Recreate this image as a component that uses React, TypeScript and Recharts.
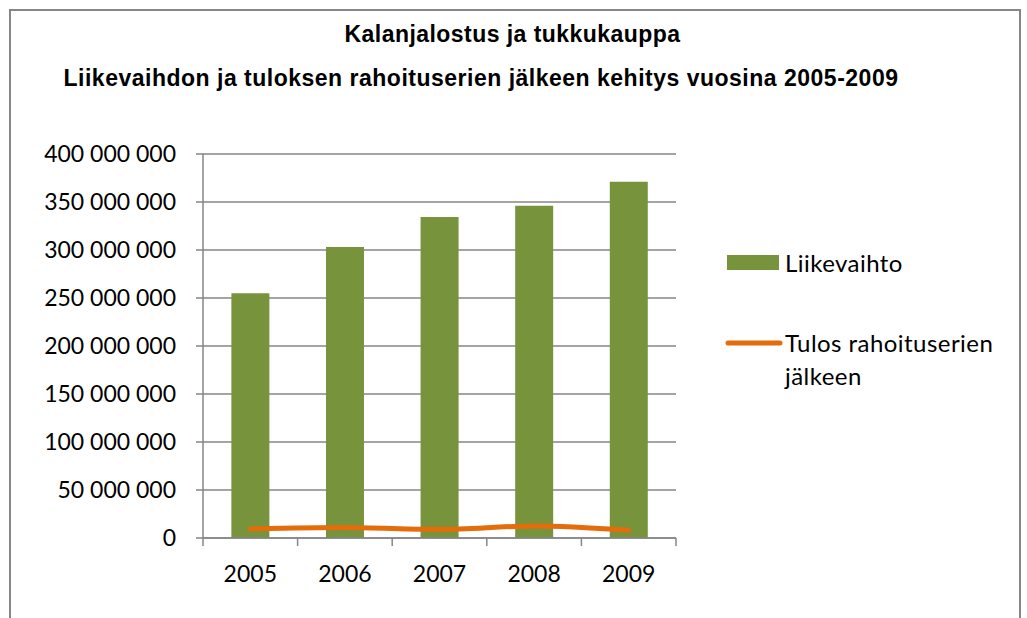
import React from "react";
import {
  ComposedChart,
  Bar,
  Line,
  XAxis,
  YAxis,
  CartesianGrid,
} from "recharts";

const years = ["2005", "2006", "2007", "2008", "2009"];
const liikevaihto = [255000000, 303000000, 334500000, 346000000, 371000000];
const tulos = [9500000, 11000000, 9000000, 12500000, 8000000];
const yTicks = [0, 50000000, 100000000, 150000000, 200000000, 250000000, 300000000, 350000000, 400000000];

const title1 = "Kalanjalostus ja tukkukauppa";
const title2 = "Liikevaihdon ja tuloksen rahoituserien jälkeen kehitys vuosina 2005-2009";
const seriesNames = ["Liikevaihto", "Tulos rahoituserien", "jälkeen"];

const data = years.map((y, i) => ({ year: y, liikevaihto: liikevaihto[i], tulos: tulos[i] }));

const GREEN = "#77933C";
const ORANGE = "#E46C0A";
const GRAY = "#868686";
const TICK_FONT = "Lato, 'Open Sans', sans-serif";
const TITLE_FONT = "'Liberation Sans', Arial, sans-serif";

const fmt = (v: number) => String(v).replace(/\B(?=(\d{3})+(?!\d))/g, " ");

const XTick = (props: any) => {
  const { x, y, payload, index, visibleTicksCount } = props;
  const half = payload && typeof payload.offset === "number" ? payload.offset : 0;
  const axisY = y - 8;
  return (
    <g>
      <line x1={x - half} x2={x - half} y1={axisY} y2={axisY + 8} stroke={GRAY} strokeWidth={1.5} />
      {index === visibleTicksCount - 1 && (
        <line x1={x + half} x2={x + half} y1={axisY} y2={axisY + 8} stroke={GRAY} strokeWidth={1.5} />
      )}
      <text x={x} y={axisY + 44} textAnchor="middle" fontFamily={TICK_FONT} fontSize={23} fill="#000">
        {payload.value}
      </text>
    </g>
  );
};

export default function App() {
  return (
    <div style={{ position: "absolute", left: 0, top: 0, width: 1027, height: 618, overflow: "hidden", background: "#fff" }}>
      <div
        style={{
          position: "absolute",
          left: 9,
          top: 9,
          width: 1012,
          height: 640,
          boxSizing: "border-box",
          borderTop: `2px solid ${GRAY}`,
          borderLeft: `2px solid ${GRAY}`,
          borderRight: `2px solid ${GRAY}`,
        }}
      />
      <div style={{ position: "absolute", left: 0, top: 0 }}>
        <ComposedChart
          width={1027}
          height={618}
          data={data}
          margin={{ top: 154, right: 351, bottom: 40, left: 0 }}
          barCategoryGap="30%"
        >
          <CartesianGrid vertical={false} stroke={GRAY} strokeWidth={1.5} />
          <XAxis
            dataKey="year"
            height={40}
            axisLine={{ stroke: GRAY, strokeWidth: 1.5 }}
            tickLine={false}
            tickSize={8}
            tickMargin={0}
            tick={<XTick />}
            interval={0}
          />
          <YAxis
            width={203}
            domain={[0, 400000000]}
            ticks={yTicks}
            interval={0}
            tickFormatter={fmt}
            axisLine={{ stroke: GRAY, strokeWidth: 1.5 }}
            tickLine={{ stroke: GRAY, strokeWidth: 1.5 }}
            tickSize={7}
            tickMargin={20}
            tick={{ fontFamily: TICK_FONT, fontSize: 23, fill: "#000" }}
          />
          <Bar dataKey="liikevaihto" name={seriesNames[0]} fill={GREEN} isAnimationActive={false} />
          <Line
            dataKey="tulos"
            name={seriesNames[1] + " " + seriesNames[2]}
            type="monotone"
            stroke={ORANGE}
            strokeWidth={5}
            strokeLinecap="round"
            dot={false}
            activeDot={false}
            isAnimationActive={false}
          />
        </ComposedChart>
      </div>
      <svg width={1027} height={618} style={{ position: "absolute", left: 0, top: 0, pointerEvents: "none" }}>
        <text x={512.5} y={42} textAnchor="middle" fontFamily={TITLE_FONT} fontWeight="bold" fontSize={23} letterSpacing={0.45} fill="#000">
          {title1}
        </text>
        <text x={481} y={86} textAnchor="middle" fontFamily={TITLE_FONT} fontWeight="bold" fontSize={23} letterSpacing={0.5} fill="#000">
          {title2}
        </text>
        <rect x={727} y={255} width={52} height={15} fill={GREEN} />
        <text x={785} y={272} fontFamily={TICK_FONT} fontSize={24} letterSpacing={0.45} fill="#000">{seriesNames[0]}</text>
        <line x1={728} x2={780} y1={343} y2={343} stroke={ORANGE} strokeWidth={5} strokeLinecap="round" />
        <text x={785} y={352} fontFamily={TICK_FONT} fontSize={24} letterSpacing={0.45} fill="#000">{seriesNames[1]}</text>
        <text x={785} y={385} fontFamily={TICK_FONT} fontSize={24} letterSpacing={0.45} fill="#000">{seriesNames[2]}</text>
      </svg>
    </div>
  );
}
